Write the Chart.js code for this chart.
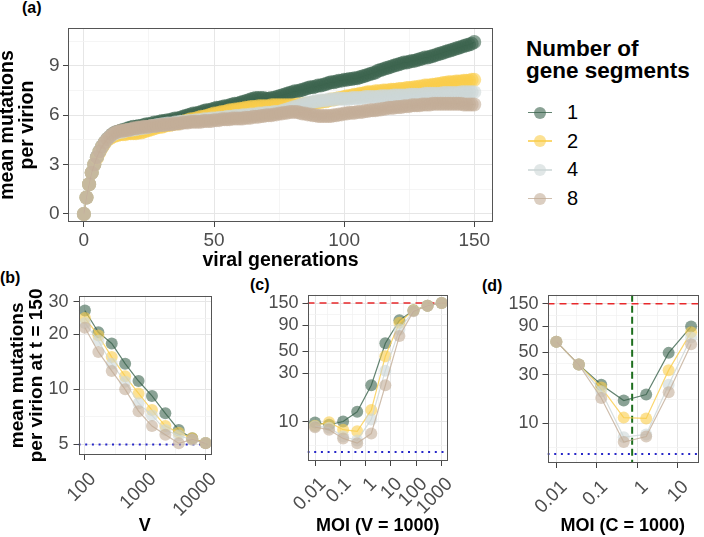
<!DOCTYPE html>
<html>
<head>
<meta charset="utf-8">
<script src="https://cdn.jsdelivr.net/npm/chart.js@4.4.1/dist/chart.umd.min.js"></script>
<style>
  body { margin: 0; background: #fff; }
  #fig { position: relative; width: 704px; height: 537px; overflow: hidden; background: #fff;
         font-family: "Liberation Sans", Arial, Helvetica, sans-serif; }
  .panel { position: absolute; }
  .panel canvas { display: block; }
  .tag { position: absolute; font-weight: bold; font-size: 16px; line-height: 16px; color: #000; }
  #legend { position: absolute; left: 526px; top: 38px; color: #000; }
  .lg-title { font-weight: bold; font-size: 22.5px; line-height: 21.6px; }
  .lg-items { margin-top: 17px; }
  .lg-item { display: flex; align-items: center; height: 28.7px; font-size: 20px; }
  .lg-key { position: relative; width: 24px; height: 14px; margin-left: 2px; margin-right: 15px; }
  .lg-key .ln { position: absolute; left: 0; right: 0; top: 6.25px; height: 1.5px; }
  .lg-key .pt { position: absolute; left: 6px; top: 1px; width: 12px; height: 12px; border-radius: 50%; }
</style>
</head>
<body>
<div id="fig">
  <div class="tag" style="left:22px;top:0px">(a)</div>
  <div class="tag" style="left:0px;top:270px">(b)</div>
  <div class="tag" style="left:250px;top:277px">(c)</div>
  <div class="tag" style="left:482px;top:278px">(d)</div>

  <div class="panel" style="left:0;top:0"><canvas id="chart-a" width="500" height="275"></canvas></div>
  <div class="panel" style="left:0;top:280px"><canvas id="chart-b" width="230" height="257"></canvas></div>
  <div class="panel" style="left:232px;top:280px"><canvas id="chart-c" width="233" height="257"></canvas></div>
  <div class="panel" style="left:470px;top:280px"><canvas id="chart-d" width="234" height="257"></canvas></div>

  <div id="legend">
    <div class="lg-title">Number of<br>gene segments</div>
    <div class="lg-items" id="legend-items"></div>
  </div>
</div>

<script>
// series: number of gene segments
const SEGMENTS = ['1', '2', '4', '8'];
const SEG_RGB = ['60,100,78', '250,205,75', '205,215,215', '195,174,152'];

// (a) mean mutations per virion vs viral generations (one value per generation)
const GENS = [
  0, 1, 2, 3, 4, 5, 6, 7, 8, 9, 10, 11, 12, 13, 14, 15, 16, 17, 18, 19,
  20, 21, 22, 23, 24, 25, 26, 27, 28, 29, 30, 31, 32, 33, 34, 35, 36, 37, 38, 39,
  40, 41, 42, 43, 44, 45, 46, 47, 48, 49, 50, 51, 52, 53, 54, 55, 56, 57, 58, 59,
  60, 61, 62, 63, 64, 65, 66, 67, 68, 69, 70, 71, 72, 73, 74, 75, 76, 77, 78, 79,
  80, 81, 82, 83, 84, 85, 86, 87, 88, 89, 90, 91, 92, 93, 94, 95, 96, 97, 98, 99,
  100, 101, 102, 103, 104, 105, 106, 107, 108, 109, 110, 111, 112, 113, 114, 115, 116, 117, 118, 119,
  120, 121, 122, 123, 124, 125, 126, 127, 128, 129, 130, 131, 132, 133, 134, 135, 136, 137, 138, 139,
  140, 141, 142, 143, 144, 145, 146, 147, 148, 149, 150];
const MUT_SEG1 = [
  0, 1.0, 1.8, 2.5, 3.0, 3.45, 3.8, 4.1, 4.35, 4.55, 4.7, 4.85, 4.95,
  5.0, 5.05, 5.1, 5.15, 5.2, 5.25, 5.3,
  5.3, 5.35, 5.35, 5.4, 5.45, 5.45, 5.5, 5.55, 5.55, 5.6,
  5.65, 5.65, 5.7, 5.7, 5.75, 5.8, 5.8, 5.85, 5.9, 5.95,
  6.0, 6.05, 6.1, 6.1, 6.15, 6.2, 6.25, 6.3, 6.3, 6.35,
  6.4, 6.45, 6.45, 6.5, 6.55, 6.55, 6.6, 6.65, 6.7, 6.7,
  6.75, 6.8, 6.85, 6.9, 6.95, 7.0, 7.05, 7.05, 7.05, 7.05,
  7.0, 7.0, 7.05, 7.05, 7.1, 7.15, 7.2, 7.25, 7.3, 7.35,
  7.4, 7.45, 7.45, 7.5, 7.55, 7.6, 7.65, 7.7, 7.7, 7.75,
  7.8, 7.8, 7.85, 7.9, 7.95, 8.0, 8.0, 8.05, 8.1, 8.1,
  8.15, 8.15, 8.2, 8.2, 8.25, 8.25, 8.3, 8.35, 8.4, 8.45,
  8.5, 8.55, 8.6, 8.7, 8.75, 8.8, 8.85, 8.9, 8.95, 9.0,
  9.05, 9.1, 9.15, 9.2, 9.2, 9.25, 9.3, 9.3, 9.35, 9.4,
  9.45, 9.5, 9.5, 9.55, 9.6, 9.65, 9.7, 9.75, 9.8, 9.85,
  9.9, 9.95, 10.0, 10.05, 10.1, 10.15, 10.2, 10.25, 10.3, 10.35,
  10.45];
const MUT_SEG2 = [
  0, 1.0, 1.8, 2.5, 3.0, 3.4, 3.75, 4.05, 4.3, 4.5, 4.6, 4.7, 4.75,
  4.8, 4.85, 4.85, 4.85, 4.9, 4.9, 4.9,
  4.9, 4.95, 4.95, 5.0, 5.05, 5.1, 5.15, 5.2, 5.25, 5.3,
  5.3, 5.35, 5.4, 5.4, 5.45, 5.5, 5.5, 5.55, 5.6, 5.65,
  5.7, 5.75, 5.75, 5.8, 5.85, 5.9, 5.9, 5.95, 6.0, 6.05,
  6.1, 6.1, 6.15, 6.2, 6.2, 6.25, 6.3, 6.3, 6.35, 6.35,
  6.4, 6.4, 6.45, 6.45, 6.5, 6.5, 6.5, 6.55, 6.55, 6.55,
  6.55, 6.55, 6.6, 6.6, 6.6, 6.6, 6.6, 6.6, 6.6, 6.6,
  6.6, 6.6, 6.65, 6.65, 6.65, 6.7, 6.7, 6.7, 6.75, 6.75,
  6.8, 6.8, 6.85, 6.85, 6.9, 6.95, 6.95, 7.0, 7.05, 7.05,
  7.1, 7.15, 7.15, 7.2, 7.25, 7.25, 7.3, 7.3, 7.35, 7.4,
  7.4, 7.4, 7.45, 7.45, 7.45, 7.5, 7.5, 7.5, 7.55, 7.55,
  7.55, 7.6, 7.6, 7.6, 7.65, 7.65, 7.65, 7.7, 7.7, 7.75,
  7.75, 7.8, 7.8, 7.8, 7.85, 7.85, 7.9, 7.9, 7.95, 7.95,
  8.0, 8.0, 8.0, 8.05, 8.05, 8.05, 8.1, 8.1, 8.1, 8.15,
  8.15];
const MUT_SEG4 = [
  0, 1.0, 1.8, 2.5, 3.0, 3.45, 3.8, 4.1, 4.35, 4.55, 4.7, 4.8, 4.9,
  4.95, 5.0, 5.0, 5.05, 5.1, 5.1, 5.15,
  5.15, 5.2, 5.2, 5.25, 5.25, 5.3, 5.35, 5.35, 5.4, 5.4,
  5.45, 5.45, 5.5, 5.5, 5.5, 5.55, 5.55, 5.6, 5.6, 5.6,
  5.65, 5.65, 5.65, 5.7, 5.7, 5.7, 5.75, 5.75, 5.75, 5.8,
  5.8, 5.8, 5.85, 5.85, 5.85, 5.9, 5.9, 5.9, 5.95, 5.95,
  5.95, 6.0, 6.0, 6.0, 6.05, 6.05, 6.05, 6.1, 6.1, 6.1,
  6.15, 6.15, 6.15, 6.2, 6.2, 6.2, 6.25, 6.3, 6.35, 6.4,
  6.45, 6.5, 6.55, 6.6, 6.65, 6.7, 6.75, 6.75, 6.8, 6.85,
  6.85, 6.9, 6.9, 6.9, 6.95, 6.95, 6.95, 7.0, 7.0, 7.0,
  7.0, 7.0, 7.0, 7.05, 7.05, 7.05, 7.05, 7.05, 7.1, 7.1,
  7.1, 7.1, 7.1, 7.1, 7.15, 7.15, 7.15, 7.15, 7.15, 7.2,
  7.2, 7.2, 7.2, 7.2, 7.2, 7.25, 7.25, 7.25, 7.25, 7.25,
  7.25, 7.3, 7.3, 7.3, 7.3, 7.3, 7.3, 7.3, 7.35, 7.35,
  7.35, 7.35, 7.35, 7.35, 7.35, 7.4, 7.4, 7.4, 7.4, 7.4,
  7.4];
const MUT_SEG8 = [
  0, 1.0, 1.8, 2.5, 3.0, 3.45, 3.8, 4.1, 4.35, 4.55, 4.7, 4.85, 4.95,
  5.0, 5.05, 5.05, 5.1, 5.1, 5.15, 5.2,
  5.2, 5.25, 5.25, 5.3, 5.3, 5.3, 5.35, 5.35, 5.35, 5.4,
  5.4, 5.4, 5.45, 5.45, 5.45, 5.5, 5.5, 5.5, 5.55, 5.55,
  5.55, 5.6, 5.6, 5.6, 5.6, 5.6, 5.65, 5.65, 5.65, 5.65,
  5.7, 5.7, 5.7, 5.75, 5.75, 5.75, 5.75, 5.8, 5.8, 5.8,
  5.8, 5.8, 5.85, 5.85, 5.85, 5.9, 5.9, 5.9, 5.95, 5.95,
  6.0, 6.0, 6.0, 6.05, 6.05, 6.1, 6.1, 6.15, 6.15, 6.2,
  6.2, 6.2, 6.2, 6.15, 6.1, 6.1, 6.05, 6.05, 6.0, 6.0,
  5.95, 5.95, 5.95, 5.95, 5.95, 5.95, 6.0, 6.0, 6.05, 6.05,
  6.1, 6.1, 6.15, 6.15, 6.15, 6.2, 6.2, 6.2, 6.25, 6.25,
  6.3, 6.3, 6.3, 6.35, 6.35, 6.4, 6.4, 6.45, 6.45, 6.45,
  6.5, 6.5, 6.5, 6.55, 6.55, 6.55, 6.6, 6.6, 6.6, 6.6,
  6.65, 6.65, 6.65, 6.65, 6.7, 6.7, 6.7, 6.7, 6.7, 6.7,
  6.7, 6.7, 6.7, 6.7, 6.7, 6.7, 6.65, 6.65, 6.65, 6.65,
  6.65];

// (b) mutations at t = 150 vs V
const V_VALUES = [100, 167, 278, 464, 774, 1292, 2154, 3594, 5995, 10000];
const V_SEG1 = [26.9, 20.5, 17.8, 13.8, 11.1, 9.2, 7.4, 6.0, 5.4, 5.1];
const V_SEG2 = [24.5, 19.7, 15.0, 11.8, 9.5, 7.7, 6.3, 5.8, 5.4, 5.1];
const V_SEG4 = [23.0, 18.4, 13.8, 11.0, 8.4, 7.2, 6.0, 5.6, 5.3, 5.1];
const V_SEG8 = [21.7, 16.0, 12.6, 10.0, 7.6, 6.3, 5.65, 5.07, 5.33, 5.07];

// (c) mutations at t = 150 vs MOI, V = 1000
const MOI_C = [0.01, 0.0359, 0.129, 0.464, 1.668, 5.995, 21.54, 77.4, 278.3, 1000];
const MOIV_SEG1 = [9.8, 9.3, 10.0, 12.5, 22.9, 59.9, 101, 127, 141, 150];
const MOIV_SEG2 = [9.1, 9.85, 8.3, 8.0, 13.0, 44.4, 95.6, 127, 141, 150];
const MOIV_SEG4 = [9.0, 8.7, 7.1, 6.5, 10.5, 32, 82, 126, 141, 150];
const MOIV_SEG8 = [8.8, 8.3, 6.8, 6.1, 7.6, 22.9, 70.7, 124, 141, 150];

// (d) mutations at t = 150 vs MOI, C = 1000
const MOI_D = [0.01, 0.0359, 0.129, 0.464, 1.668, 5.995, 21.54];
const MOIC_SEG1 = [63.7, 37.9, 24.0, 16.8, 19.2, 49.4, 89.6];
const MOIC_SEG2 = [63.7, 37.9, 22.6, 11.4, 11.2, 33.4, 79];
const MOIC_SEG4 = [63.7, 37.9, 20.7, 7.33, 7.8, 24, 70];
const MOIC_SEG8 = [63.7, 37.9, 17.8, 6.56, 7.44, 20.2, 60];

// reference levels
const MAX_MUT = 150;       // red dashed
const BASE_MUT = 5;        // blue dotted
const MOI_SWITCH = 0.75;   // green dashed, panel d

Chart.defaults.font.family = '"Liberation Sans", Arial, Helvetica, sans-serif';
Chart.defaults.color = '#4d4d4d';

const rgba = (rgb, a) => `rgba(${rgb},${a})`;

// frame round the panel, like theme_bw
const panelFrame = {
  id: 'panelFrame',
  afterDatasetsDraw(chart) {
    const { ctx, chartArea: a } = chart;
    ctx.save();
    ctx.strokeStyle = '#555';
    ctx.lineWidth = 1;
    ctx.strokeRect(Math.round(a.left) + 0.5, Math.round(a.top) + 0.5,
      Math.round(a.right - a.left) - 1, Math.round(a.bottom - a.top) - 1);
    ctx.restore();
  },
};

// horizontal / vertical reference lines drawn under the points
const refLines = {
  id: 'refLines',
  beforeDatasetsDraw(chart, args, opts) {
    const { ctx, chartArea: a, scales } = chart;
    ctx.save();
    ctx.beginPath();
    ctx.rect(a.left, a.top, a.right - a.left, a.bottom - a.top);
    ctx.clip();
    (opts.lines || []).forEach(l => {
      ctx.strokeStyle = l.color;
      ctx.lineWidth = l.width;
      ctx.setLineDash(l.dash);
      ctx.beginPath();
      if (l.axis === 'y') {
        const py = scales.y.getPixelForValue(l.value);
        ctx.moveTo(a.left, py);
        ctx.lineTo(a.right, py);
      } else {
        const px = scales.x.getPixelForValue(l.value);
        ctx.moveTo(px, a.top);
        ctx.lineTo(px, a.bottom);
      }
      ctx.stroke();
    });
    ctx.restore();
  },
};

function makeAxis({ type = 'linear', min, max, major, minor = [], size, fit, pad, rotate = false, title }) {
  const isMajor = v => major.includes(v);
  return {
    type, min, max,
    afterBuildTicks: s => {
      s.ticks = [...major, ...minor]
        .filter(v => v >= min && v <= max)
        .sort((p, q) => p - q)
        .map(v => ({ value: v }));
    },
    afterFit: fit,
    ticks: {
      autoSkip: false,
      color: '#4d4d4d',
      padding: pad,
      font: { size },
      minRotation: rotate ? 45 : 0,
      maxRotation: rotate ? 45 : 0,
      labelOffset: rotate ? 8 : 0,
      callback: v => (isMajor(v) ? String(v) : ''),
    },
    grid: {
      color: c => (c.tick && isMajor(c.tick.value) ? '#e6e6e6' : '#f3f3f3'),
      lineWidth: c => (c.tick && isMajor(c.tick.value) ? 1 : 0.8),
      tickColor: c => (c.tick && isMajor(c.tick.value) ? '#444' : 'rgba(0,0,0,0)'),
      tickLength: 5,
    },
    border: { display: false },
    title: title ? { display: true, color: '#000', ...title } : { display: false },
  };
}

function segDatasets(xs, seriesList, radius) {
  return SEGMENTS.map((seg, i) => ({
    label: seg,
    data: xs.map((x, k) => ({ x, y: seriesList[i][k] })),
    order: SEGMENTS.length - i,
    borderColor: rgba(SEG_RGB[i], 0.8),
    borderWidth: 1.2,
    backgroundColor: rgba(SEG_RGB[i], 0.6),
    pointBackgroundColor: rgba(SEG_RGB[i], 0.6),
    pointBorderWidth: 0,
    pointRadius: radius,
    tension: 0,
  }));
}

function baseOptions(padding, scales, lines) {
  return {
    responsive: false,
    animation: false,
    events: [],
    layout: { padding },
    plugins: {
      legend: { display: false },
      tooltip: { enabled: false },
      refLines: { lines },
    },
    scales,
  };
}

const blueDots = { axis: 'y', value: BASE_MUT, color: '#2626c8', width: 2, dash: [2, 4.7] };
const redDash = { axis: 'y', value: MAX_MUT, color: '#e8282b', width: 1.5, dash: [7, 5] };
const LOG_Y_MAJOR = [10, 30, 50, 90, 150];
const LOG_Y_MINOR = [5.77, 17.3, 38.7, 67.1, 116.2];
const bottomTitle = text => ({ text, font: { size: 18, weight: 'bold', lineHeight: 1 }, padding: { top: 0, bottom: 2 } });

// (a)
new Chart(document.getElementById('chart-a'), {
  type: 'line',
  data: { datasets: segDatasets(GENS, [MUT_SEG1, MUT_SEG2, MUT_SEG4, MUT_SEG8], 7) },
  options: baseOptions({ top: 28, right: 3, left: 0, bottom: 0 }, {
    x: makeAxis({
      min: -6.1, max: 157.2, major: [0, 50, 100, 150], minor: [25, 75, 125], size: 19, pad: 2,
      fit: s => { s.height = 53; },
      title: { text: 'viral generations', font: { size: 19.5, weight: 'bold', lineHeight: 1 }, padding: { top: 0, bottom: 5 } },
    }),
    y: makeAxis({
      min: -0.49, max: 11.3, major: [0, 3, 6, 9], minor: [1.5, 4.5, 7.5, 10.5], size: 19, pad: 3.5,
      fit: s => { s.width = 68; },
      title: { text: ['mean mutations', 'per virion'], font: { size: 19.5, weight: 'bold', lineHeight: 1.05 }, padding: { top: -3, bottom: 0 } },
    }),
  }, []),
  plugins: [refLines, panelFrame],
});

// (b)
new Chart(document.getElementById('chart-b'), {
  type: 'line',
  data: { datasets: segDatasets(V_VALUES, [V_SEG1, V_SEG2, V_SEG4, V_SEG8], 6) },
  options: baseOptions({ top: 11, right: 7, left: 0, bottom: 0 }, {
    x: makeAxis({
      type: 'logarithmic', min: 78.2, max: 12350, major: [100, 1000, 10000], minor: [316, 3162],
      size: 19, pad: 8, rotate: true,
      fit: s => { s.height = 82; },
      title: bottomTitle('V'),
    }),
    y: makeAxis({
      type: 'logarithmic', min: 4.38, max: 32.4, major: [5, 10, 20, 30], minor: [7.07, 14.14, 24.49],
      size: 18, pad: 5,
      fit: s => { s.width = 78.5; },
      title: { text: ['mean mutations', 'per virion at t = 150'], font: { size: 19, weight: 'bold', lineHeight: 1.0 }, padding: { top: 8.5, bottom: 0 } },
    }),
  }, [blueDots]),
  plugins: [refLines, panelFrame],
});

// (c)
new Chart(document.getElementById('chart-c'), {
  type: 'line',
  data: { datasets: segDatasets(MOI_C, [MOIV_SEG1, MOIV_SEG2, MOIV_SEG4, MOIV_SEG8], 6) },
  options: baseOptions({ top: 11.5, right: 3, left: 0, bottom: 0 }, {
    x: makeAxis({
      type: 'logarithmic', min: 0.00505, max: 1782,
      major: [0.01, 0.1, 1, 10, 100, 1000], minor: [0.0316, 0.316, 3.16, 31.6, 316],
      size: 19, pad: 7, rotate: true,
      fit: s => { s.height = 76; },
      title: bottomTitle('MOI (V = 1000)'),
    }),
    y: makeAxis({
      type: 'logarithmic', min: 4.06, max: 181, major: LOG_Y_MAJOR, minor: LOG_Y_MINOR,
      size: 18, pad: 4,
      fit: s => { s.width = 75.5; },
    }),
  }, [blueDots, redDash]),
  plugins: [refLines, panelFrame],
});

// (d)
new Chart(document.getElementById('chart-d'), {
  type: 'line',
  data: { datasets: segDatasets(MOI_D, [MOIC_SEG1, MOIC_SEG2, MOIC_SEG4, MOIC_SEG8], 6) },
  options: baseOptions({ top: 11.5, right: 3.5, left: 0, bottom: 0 }, {
    x: makeAxis({
      type: 'logarithmic', min: 0.00604, max: 31.9,
      major: [0.01, 0.1, 1, 10], minor: [0.0316, 0.316, 3.16],
      size: 19, pad: 8, rotate: true,
      fit: s => { s.height = 74; },
      title: bottomTitle('MOI (C = 1000)'),
    }),
    y: makeAxis({
      type: 'logarithmic', min: 4.08, max: 184, major: LOG_Y_MAJOR, minor: LOG_Y_MINOR,
      size: 18, pad: 4,
      fit: s => { s.width = 77.5; },
    }),
  }, [blueDots, redDash, { axis: 'x', value: MOI_SWITCH, color: '#1d6e1d', width: 2, dash: [7, 4] }]),
  plugins: [refLines, panelFrame],
});

// legend for panel (a)
document.getElementById('legend-items').innerHTML = SEGMENTS.map((seg, i) => `
  <div class="lg-item">
    <span class="lg-key">
      <span class="ln" style="background:${rgba(SEG_RGB[i], 0.8)}"></span>
      <span class="pt" style="background:${rgba(SEG_RGB[i], 0.6)}"></span>
    </span>
    <span>${seg}</span>
  </div>`).join('');
</script>
</body>
</html>
